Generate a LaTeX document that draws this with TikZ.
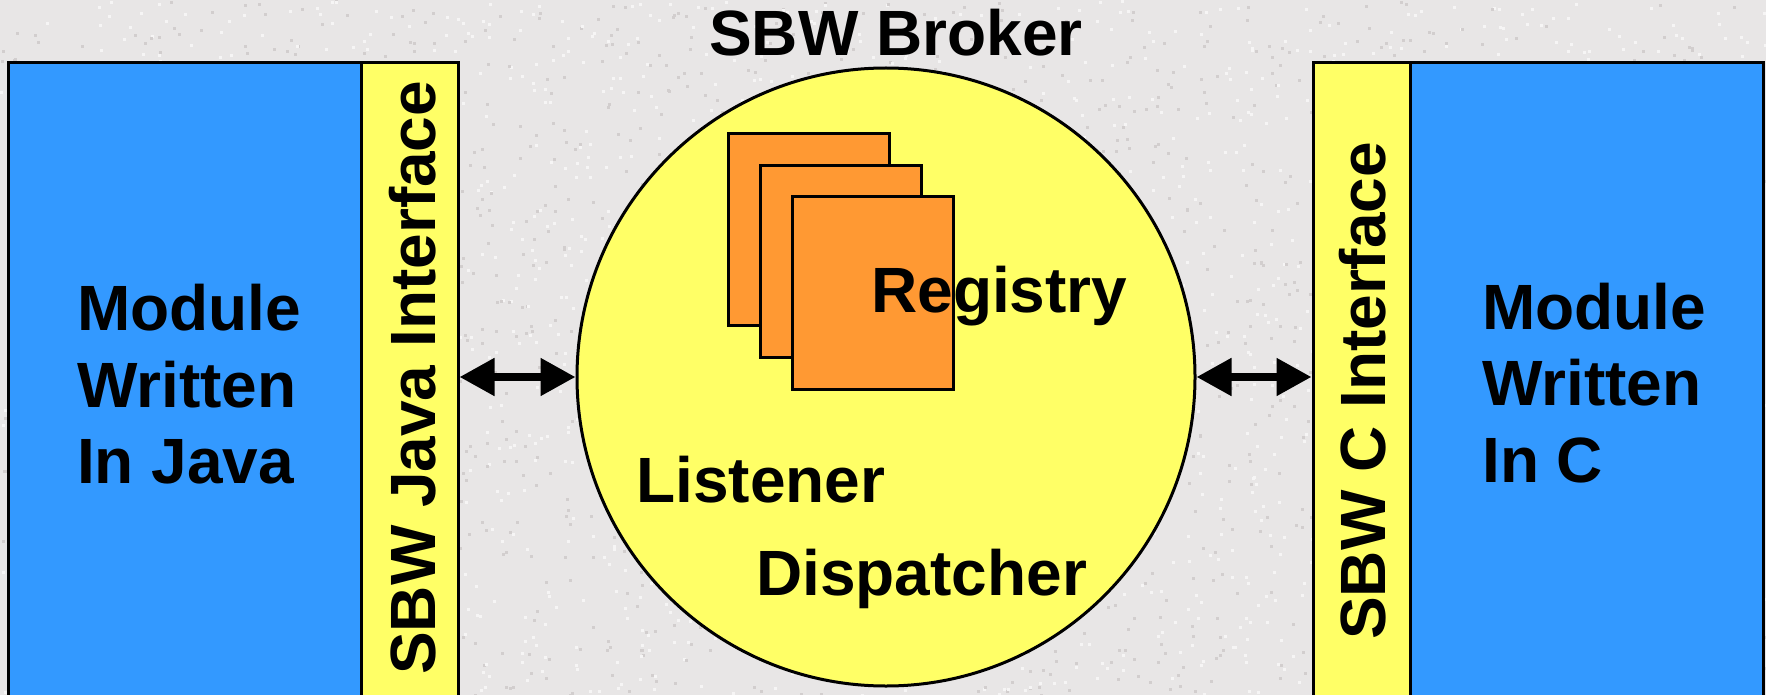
\documentclass[tikz,border=0pt]{standalone}
\usepackage{fontspec}
\setmainfont{Liberation Sans}
\usetikzlibrary{arrows.meta}
\definecolor{bgcol}{RGB}{232,230,230}
\definecolor{speckdark}{RGB}{210,206,206}
\definecolor{specklight}{RGB}{246,245,245}
\definecolor{modblue}{HTML}{3399FF}
\definecolor{ifyellow}{HTML}{FFFF66}
\definecolor{regorange}{HTML}{FF9933}
\tikzset{
  bigtext/.style={font=\bfseries\fontsize{64}{77}\selectfont, inner sep=0pt},
  modbox/.style={draw=black, line width=3pt, fill=modblue, rectangle, inner sep=0pt,
                 minimum width=353pt, minimum height=657pt},
  ifbox/.style={draw=black, line width=3pt, fill=ifyellow, rectangle, inner sep=0pt,
                minimum width=97pt, minimum height=657pt},
  regbox/.style={draw=black, line width=3pt, fill=regorange, rectangle, inner sep=0pt,
                 minimum width=161pt, minimum height=192pt},
  brokercircle/.style={draw=black, line width=3pt, fill=ifyellow, circle, inner sep=0pt,
                       minimum size=618pt},
  biarrow/.style={line width=8pt, {Triangle[length=35pt,width=36pt]}-{Triangle[length=35pt,width=36pt]}}
}
\begin{document}
\begin{tikzpicture}[x=1pt,y=-1pt]
\useasboundingbox (0,0) rectangle (1766,695);
\clip (0,0) rectangle (1766,695);
% background texture
\fill[bgcol] (0,0) rectangle (1766,695);
\pgfmathsetseed{7}
\foreach \i in {1,...,1800} {
  \pgfmathsetmacro{\px}{rnd*1766}
  \pgfmathsetmacro{\py}{rnd*695}
  \fill[speckdark] (\px,\py) rectangle ++(3,3);
  \pgfmathsetmacro{\qx}{rnd*1766}
  \pgfmathsetmacro{\qy}{rnd*695}
  \fill[specklight] (\qx,\qy) rectangle ++(3,3);
}
% title
\node[bigtext, anchor=base] (title) at (896,56) {SBW Broker};
% left module
\node[modbox] (javamod) at (184.5,391.5) {};
\node[ifbox] (javaif) at (409.5,391.5) {};
\node[bigtext, anchor=base west] (jl1) at (77,330) {Module};
\node[bigtext, anchor=base west] (jl2) at (77,407) {Written};
\node[bigtext, anchor=base west] (jl3) at (77,483) {In Java};
\node[bigtext, rotate=90, anchor=base west] (javaiftext) at (435,675) {SBW Java Interface};
% right module
\node[ifbox] (cif) at (1361.5,391.5) {};
\node[modbox] (cmod) at (1586.5,391.5) {};
\node[bigtext, anchor=base west] (cl1) at (1482,329) {Module};
\node[bigtext, anchor=base west] (cl2) at (1482,405) {Written};
\node[bigtext, anchor=base west] (cl3) at (1482,482) {In C};
\node[bigtext, rotate=90, anchor=base west] (ciftext) at (1385,640) {SBW C Interface};
% broker
\node[brokercircle] (broker) at (886,377) {};
\node[regbox] (reg1) at (808.5,229.5) {};
\node[regbox] (reg2) at (840.5,261.5) {};
\node[regbox] (reg3) at (872.5,293) {};
\node[bigtext, anchor=base west] (registry) at (871,312) {Registry};
\node[bigtext, anchor=base west] (listener) at (636,502) {Listener};
\node[bigtext, anchor=base west] (dispatcher) at (756,595) {Dispatcher};
% connectors
\draw[biarrow] (broker.west -| javaif.east) -- (broker.west);
\draw[biarrow] (broker.east) -- (broker.east -| cif.west);
\end{tikzpicture}
\end{document}
